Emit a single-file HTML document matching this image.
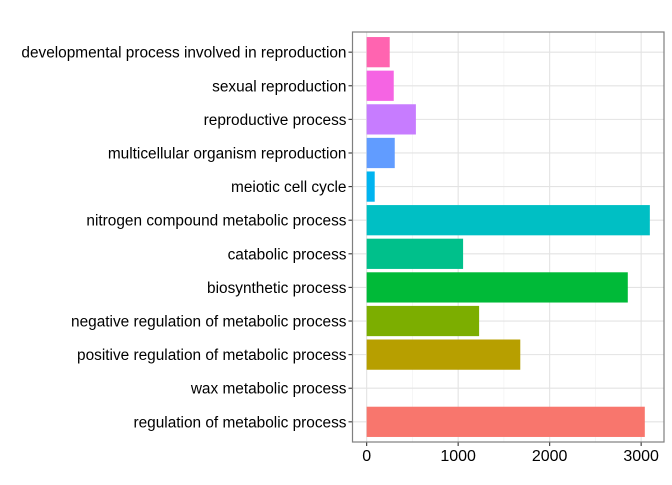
<!DOCTYPE html>
<html><head><meta charset="utf-8"><style>
body{margin:0;background:#fff;}
svg text{font-family:"Liberation Sans",Arial,sans-serif;}
</style></head><body>
<svg id="chart" width="672" height="480" xmlns="http://www.w3.org/2000/svg"></svg>
<script>
const categories=["regulation of metabolic process","wax metabolic process","positive regulation of metabolic process","negative regulation of metabolic process","biosynthetic process","catabolic process","nitrogen compound metabolic process","meiotic cell cycle","multicellular organism reproduction","reproductive process","sexual reproduction","developmental process involved in reproduction"];
const values=[3040,0,1679,1229,2854,1054,3095,88,307,538,296,252];
const colors=["#F8766D","#DE8C00","#B79F00","#7CAE00","#00BA38","#00C08B","#00BFC4","#00B4F0","#619CFF","#C77CFF","#F564E3","#FF64B0"];
const xTicks=[0,1000,2000,3000];
const xMinor=[500,1500,2500];
const NS="http://www.w3.org/2000/svg";
const svg=document.getElementById('chart');
const L=352.5,R=664,T=32,B=442;
const maxV=Math.max(...values);
const d0=-0.05*maxV,d1=maxV*1.05;
const x=v=>L+(v-d0)/(d1-d0)*(R-L);
const n=categories.length;
const step=(B-T)/(n-1+1.2);
const y=i=>B-step*(i+0.6);
function el(t,a){const e=document.createElementNS(NS,t);for(const k in a)e.setAttribute(k,a[k]);svg.appendChild(e);return e;}
const bg=el('rect',{x:L,y:T,width:R-L,height:B-T,fill:'#fff'});


xMinor.forEach(v=>{const g=el('line',{x1:x(v),x2:x(v),y1:T,y2:B,stroke:'#f0f0f0','stroke-width':0.6});

});
xTicks.forEach(v=>{const g=el('line',{x1:x(v),x2:x(v),y1:T,y2:B,stroke:'#e3e3e3','stroke-width':1.1});

});
categories.forEach((c,i)=>{const g=el('line',{x1:L,x2:R,y1:y(i),y2:y(i),stroke:'#e3e3e3','stroke-width':1.1});

});
categories.forEach((c,i)=>{
 const h=step*0.9;
 const r=el('rect',{x:x(0),y:y(i)-h/2,width:Math.max(0,x(values[i])-x(0)),height:h,fill:colors[i]});
 
 
 const tk=el('line',{x1:L-4,x2:L,y1:y(i),y2:y(i),stroke:'#333','stroke-width':1.1});
 
 
 const t=el('text',{x:L-6,y:y(i)+5.5,'text-anchor':'end','font-size':15.4,fill:'#000'});
 t.textContent=c;
 
 
});
xTicks.forEach(v=>{
 const tk=el('line',{x1:x(v),x2:x(v),y1:B,y2:B+4,stroke:'#333','stroke-width':1.1});
 
 
 const t=el('text',{x:x(v),y:B+19,'text-anchor':'middle','font-size':16,fill:'#000'});
 t.textContent=v;
 
 
});
const bd=el('rect',{x:L,y:T,width:R-L,height:B-T,fill:'none',stroke:'#7f7f7f','stroke-width':1.2});


</script>
</body></html>
